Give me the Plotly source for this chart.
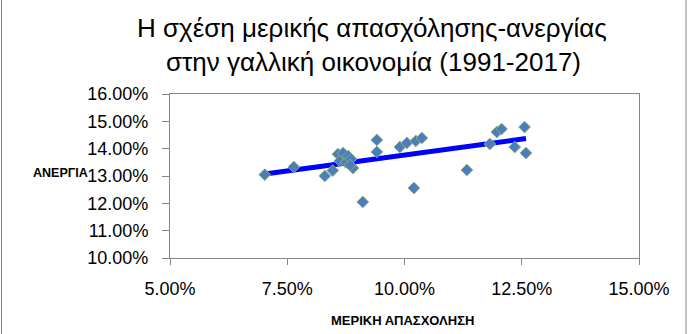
import numpy as np
import plotly.graph_objects as go

# Part-time employment (%) and unemployment (%), France 1991-2017
part_time = [7.02, 7.64, 8.30, 8.47, 8.58, 8.62, 8.69, 8.75, 8.80, 8.86, 8.90,
             9.11, 9.41, 9.41, 9.90, 10.05, 10.20, 10.24, 10.37,
             11.33, 11.82, 11.97, 12.07, 12.35, 12.56, 12.59, 8.84]
unemployment = [13.05, 13.33, 13.00, 13.20, 13.80, 13.55, 13.84, 13.50, 13.73, 13.62, 13.29,
                12.05, 14.32, 13.88, 14.06, 14.21, 12.56, 14.28, 14.39,
                13.22, 14.17, 14.61, 14.72, 14.06, 14.79, 13.84, 13.40]

x_ticks = [5.0, 7.5, 10.0, 12.5, 15.0]
y_ticks = [10.0, 11.0, 12.0, 13.0, 14.0, 15.0, 16.0]
x_tick_text = [f"{v:.2f}%" for v in x_ticks]
y_tick_text = [f"{v:.2f}%" for v in y_ticks]

title_lines = ["Η σχέση μερικής απασχόλησης-ανεργίας", "στην γαλλική οικονομία (1991-2017)"]
x_title = "ΜΕΡΙΚΗ ΑΠΑΣΧΟΛΗΣΗ"
y_title = "ΑΝΕΡΓΙΑ"

slope, intercept = np.polyfit(part_time, unemployment, 1)
tx = [min(part_time), max(part_time)]
ty = [slope * v + intercept for v in tx]

font = "Liberation Sans, Arial, sans-serif"

fig = go.Figure()
fig.add_trace(go.Scatter(
    x=tx, y=ty, mode="lines",
    line=dict(color="#0000FF", width=5),
    hoverinfo="skip", showlegend=False))
fig.add_trace(go.Scatter(
    x=part_time, y=unemployment, mode="markers",
    marker=dict(symbol="diamond", size=9, color="#4A7EBB",
                line=dict(color="#8CAA86", width=1)),
    showlegend=False))

axis_common = dict(
    showline=True, linecolor="#868686", linewidth=1, mirror=True,
    showgrid=False, zeroline=False,
    ticks="outside", tickcolor="#868686", tickwidth=1,
    tickfont=dict(family=font, size=18, color="#000000"),
)
fig.update_xaxes(range=[5, 15], tickvals=x_ticks, ticktext=x_tick_text, ticklen=6,
                 ticklabelstandoff=8, **axis_common)
fig.update_yaxes(range=[10, 16], tickvals=y_ticks, ticktext=y_tick_text, ticklen=7,
                 ticklabelstandoff=10, **axis_common)

fig.add_annotation(text=title_lines[0], xref="paper", yref="paper", x=(372 - 170) / 469, y=1 + (94 - 28) / 164,
                   showarrow=False, font=dict(family=font, size=26, color="#000000"), xanchor="center", yanchor="middle")
fig.add_annotation(text=title_lines[1], xref="paper", yref="paper", x=(373 - 170) / 469, y=1 + (94 - 62) / 164,
                   showarrow=False, font=dict(family=font, size=26, color="#000000"), xanchor="center", yanchor="middle")
fig.add_annotation(text="<b>" + y_title + "</b>", xref="paper", yref="paper", x=(60 - 170) / 469, y=(258 - 173) / 164,
                   showarrow=False, font=dict(family=font, size=12.5, color="#000000"), xanchor="center", yanchor="middle")
fig.add_annotation(text="<b>" + x_title + "</b>", xref="paper", yref="paper", x=(402 - 170) / 469, y=-(320 - 258) / 164,
                   showarrow=False, font=dict(family=font, size=13, color="#000000"), xanchor="center", yanchor="middle")

# outer chart frame (left and right edges)
fig.add_shape(type="line", xref="paper", yref="paper", x0=-(170 - 1.5) / 469, x1=-(170 - 1.5) / 469,
              y0=-76 / 164, y1=1 + 94 / 164, line=dict(color="#868686", width=1))
fig.add_shape(type="line", xref="paper", yref="paper", x0=(686 - 170) / 469, x1=(686 - 170) / 469,
              y0=-76 / 164, y1=1 + 94 / 164, line=dict(color="#868686", width=1))

fig.update_layout(
    width=688, height=334,
    margin=dict(l=170, r=49, t=94, b=76),
    paper_bgcolor="white", plot_bgcolor="white",
    font=dict(family=font),
)

fig.write_html("out.html")
